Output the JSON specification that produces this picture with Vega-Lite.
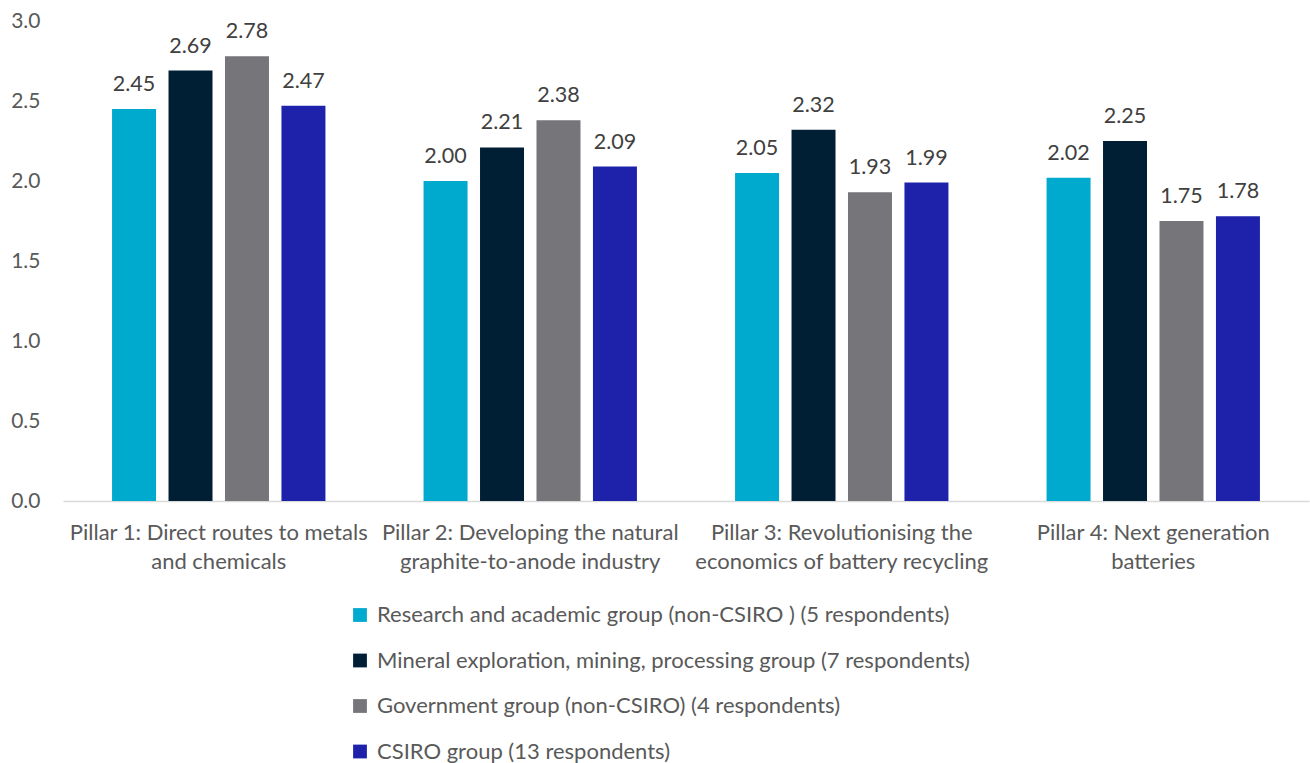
{
  "$schema": "https://vega.github.io/schema/vega-lite/v6.json",
  "width": 1246,
  "height": 480,
  "autosize": {"type": "none"},
  "padding": {"left": 63, "top": 21, "right": 1, "bottom": 262},
  "background": "white",
  "config": {"view": {"stroke": null}, "font": "Lato"},
  "data": {
    "values": [
      {"pillar": "Pillar 1: Direct routes to metals and chemicals", "group": "Research and academic group (non-CSIRO ) (5 respondents)", "value": 2.45},
      {"pillar": "Pillar 1: Direct routes to metals and chemicals", "group": " Mineral exploration, mining, processing group (7 respondents)", "value": 2.69},
      {"pillar": "Pillar 1: Direct routes to metals and chemicals", "group": "Government group (non-CSIRO) (4 respondents)", "value": 2.78},
      {"pillar": "Pillar 1: Direct routes to metals and chemicals", "group": "CSIRO  group (13 respondents)", "value": 2.47},
      {"pillar": "Pillar 2: Developing the natural graphite-to-anode industry", "group": "Research and academic group (non-CSIRO ) (5 respondents)", "value": 2.00},
      {"pillar": "Pillar 2: Developing the natural graphite-to-anode industry", "group": " Mineral exploration, mining, processing group (7 respondents)", "value": 2.21},
      {"pillar": "Pillar 2: Developing the natural graphite-to-anode industry", "group": "Government group (non-CSIRO) (4 respondents)", "value": 2.38},
      {"pillar": "Pillar 2: Developing the natural graphite-to-anode industry", "group": "CSIRO  group (13 respondents)", "value": 2.09},
      {"pillar": "Pillar 3: Revolutionising the economics of battery recycling", "group": "Research and academic group (non-CSIRO ) (5 respondents)", "value": 2.05},
      {"pillar": "Pillar 3: Revolutionising the economics of battery recycling", "group": " Mineral exploration, mining, processing group (7 respondents)", "value": 2.32},
      {"pillar": "Pillar 3: Revolutionising the economics of battery recycling", "group": "Government group (non-CSIRO) (4 respondents)", "value": 1.93},
      {"pillar": "Pillar 3: Revolutionising the economics of battery recycling", "group": "CSIRO  group (13 respondents)", "value": 1.99},
      {"pillar": "Pillar 4: Next generation batteries", "group": "Research and academic group (non-CSIRO ) (5 respondents)", "value": 2.02},
      {"pillar": "Pillar 4: Next generation batteries", "group": " Mineral exploration, mining, processing group (7 respondents)", "value": 2.25},
      {"pillar": "Pillar 4: Next generation batteries", "group": "Government group (non-CSIRO) (4 respondents)", "value": 1.75},
      {"pillar": "Pillar 4: Next generation batteries", "group": "CSIRO  group (13 respondents)", "value": 1.78}
    ]
  },
  "encoding": {
    "x": {
      "field": "pillar",
      "type": "nominal",
      "sort": null,
      "title": null,
      "scale": {"paddingInner": 0.315, "paddingOuter": 0.1575},
      "axis": {
        "labelAngle": 0,
        "labelFontSize": 22,
        "labelColor": "#595959",
        "labelPadding": 21,
        "labelLineHeight": 29,
        "ticks": false,
        "domainColor": "#d9d9d9",
        "domainWidth": 1.5,
        "labelLimit": 0,
        "labelExpr": "datum.label == 'Pillar 1: Direct routes to metals and chemicals' ? ['Pillar 1: Direct routes to metals', 'and chemicals'] : datum.label == 'Pillar 2: Developing the natural graphite-to-anode industry' ? ['Pillar 2: Developing the natural', 'graphite-to-anode industry'] : datum.label == 'Pillar 3: Revolutionising the economics of battery recycling' ? ['Pillar 3: Revolutionising the', 'economics of battery recycling'] : ['Pillar 4: Next generation', 'batteries']"
      }
    },
    "xOffset": {"field": "group", "sort": null, "scale": {"paddingInner": 0.221, "paddingOuter": 0}},
    "y": {
      "field": "value",
      "type": "quantitative",
      "title": null,
      "scale": {"domain": [0, 3]},
      "axis": {
        "values": [0, 0.5, 1, 1.5, 2, 2.5, 3],
        "format": ".1f",
        "domain": false,
        "ticks": false,
        "grid": false,
        "labelFontSize": 21,
        "labelColor": "#595959",
        "labelPadding": 23
      }
    }
  },
  "layer": [
    {
      "mark": {"type": "bar"},
      "encoding": {
        "color": {
          "field": "group",
          "type": "nominal",
          "sort": null,
          "scale": {
            "domain": ["Research and academic group (non-CSIRO ) (5 respondents)", " Mineral exploration, mining, processing group (7 respondents)", "Government group (non-CSIRO) (4 respondents)", "CSIRO  group (13 respondents)"],
            "range": ["#00A9CE", "#001E34", "#75757A", "#1E22AA"]
          },
          "legend": {
            "title": null,
            "orient": "none",
            "legendX": 286,
            "legendY": 583,
            "direction": "vertical",
            "symbolType": "square",
            "symbolSize": 190,
            "symbolStrokeWidth": 0,
            "labelFontSize": 22,
            "labelColor": "#595959",
            "labelOffset": 6,
            "labelLimit": 0,
            "rowPadding": 23.5
          }
        }
      }
    },
    {
      "mark": {"type": "text", "baseline": "bottom", "dy": -13, "fontSize": 21.5, "color": "#404040"},
      "encoding": {
        "text": {"field": "value", "type": "quantitative", "format": ".2f"}
      }
    }
  ]
}
